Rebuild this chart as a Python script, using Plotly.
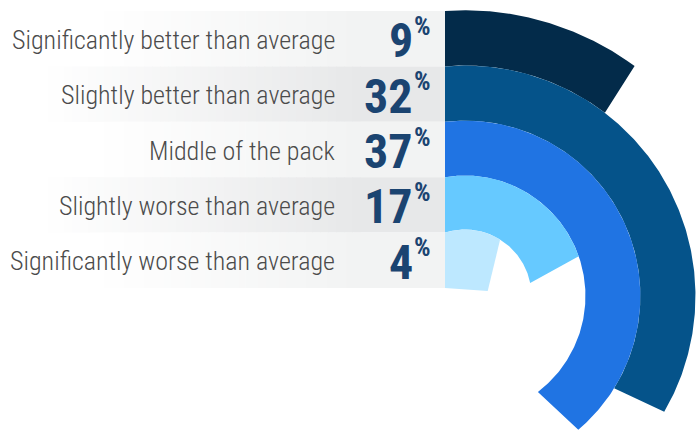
import numpy as np
import plotly.graph_objects as go

# Survey answers, one ring per answer
categories = [
    "Significantly better than average",
    "Slightly better than average",
    "Middle of the pack",
    "Slightly worse than average",
    "Significantly worse than average",
]
shares = [9, 32, 37, 17, 4]
ring_colors = ["#032b4a", "#05538a", "#2074e3", "#66c9ff", "#bde8ff"]
row_fills = ["#f2f3f3", "#e7e8e9", "#f2f3f3", "#e7e8e9", "#f2f3f3"]

# Layout in pixel units, origin at the ring centre (y up)
W, H = 700, 430
CX, CY = 465, 296          # ring centre on the page
TOP = 285                  # top of the first row above the centre
ROW_H = 55.4               # row / ring thickness
GAP = 20                   # offset of the straight ring ends from the centre
NUM_EDGE = 413             # page x where the value ends and the % sign begins
FONT = "Roboto Condensed, Liberation Sans Narrow, Roboto, sans-serif"

n = len(shares)
bounds = [TOP - ROW_H * k for k in range(n + 1)]
radii = [float(np.hypot(b, GAP)) for b in bounds]


def ring_outline(i, pct):
    """Annulus band i, cut by straight ends offset GAP from the centre."""
    sweep = np.radians(pct * 3.6)
    r_out, r_in = radii[i], radii[i + 1]
    off_o = np.arcsin(GAP / r_out)
    ao = np.linspace(-off_o, sweep + off_o, 240)
    xs = list(r_out * np.sin(ao))
    ys = list(r_out * np.cos(ao))
    if i < n - 1:
        off_i = np.arcsin(GAP / r_in)
        ai = np.linspace(sweep + off_i, -off_i, 240)
        xs += list(r_in * np.sin(ai))
        ys += list(r_in * np.cos(ai))
    else:
        # innermost band closes along the bottom of its row
        yb = bounds[-1]
        xe = (GAP + yb * np.sin(sweep)) / np.cos(sweep)
        xs += [xe, -GAP]
        ys += [yb - 3, yb]
    xs.append(xs[0])
    ys.append(ys[0])
    return xs, ys


fig = go.Figure()

# Rings
for i, (pct, col) in enumerate(zip(shares, ring_colors)):
    xs, ys = ring_outline(i, pct)
    fig.add_trace(go.Scatter(
        x=xs, y=ys, mode="lines", fill="toself", fillcolor=col,
        line=dict(width=0, color=col), hoverinfo="skip", showlegend=False,
    ))

# Label rows: grey bands fading to white on the left
shapes = []
panel_right = -GAP
for i, fill in enumerate(row_fills):
    y_top, y_bot = bounds[i], bounds[i + 1]
    r, g, b = (int(fill[k:k + 2], 16) for k in (1, 3, 5))
    fade_start = -CX + (90 if i % 2 == 0 else 40)
    fade_end = -CX + 360
    steps = 40
    edges = np.linspace(fade_start, fade_end, steps + 1)
    for s in range(steps):
        t = (s + 0.5) / steps
        c = "rgb(%d,%d,%d)" % tuple(round(255 + (v - 255) * t) for v in (r, g, b))
        shapes.append(dict(type="rect", xref="x", yref="y", x0=edges[s], x1=edges[s + 1] + 0.6,
                           y0=y_bot, y1=y_top, fillcolor=c, line=dict(width=0), layer="below"))
    shapes.append(dict(type="rect", xref="x", yref="y", x0=fade_end, x1=panel_right,
                       y0=y_bot, y1=y_top, fillcolor=fill, line=dict(width=0), layer="below"))

annotations = []
for i, (cat, pct) in enumerate(zip(categories, shares)):
    yc = (bounds[i] + bounds[i + 1]) / 2
    annotations.append(dict(
        x=337 - CX, y=yc, xref="x", yref="y", text=cat, showarrow=False,
        xanchor="right", yanchor="middle", yshift=-1,
        font=dict(family=FONT, size=26, color="#4b4b4b", weight=300),
    ))
    annotations.append(dict(
        x=NUM_EDGE - CX, y=yc, xref="x", yref="y", text=str(pct), showarrow=False,
        xanchor="right", yanchor="middle", yshift=-2, borderpad=0, borderwidth=0,
        font=dict(family=FONT, size=48, color="#1b4471", weight="bold"),
    ))
    annotations.append(dict(
        x=NUM_EDGE + 0.5 - CX, y=yc + 28, xref="x", yref="y", text="%", showarrow=False,
        xanchor="left", yanchor="top", borderpad=0, borderwidth=0,
        font=dict(family=FONT, size=26, color="#1b4471", weight="bold"),
    ))

fig.update_layout(
    width=W, height=H,
    margin=dict(l=0, r=0, t=0, b=0),
    paper_bgcolor="white", plot_bgcolor="white",
    xaxis=dict(range=[-CX, W - CX], visible=False, fixedrange=True),
    yaxis=dict(range=[CY - H, CY], visible=False, fixedrange=True),
    shapes=shapes, annotations=annotations,
)

fig.write_html("out.html")
